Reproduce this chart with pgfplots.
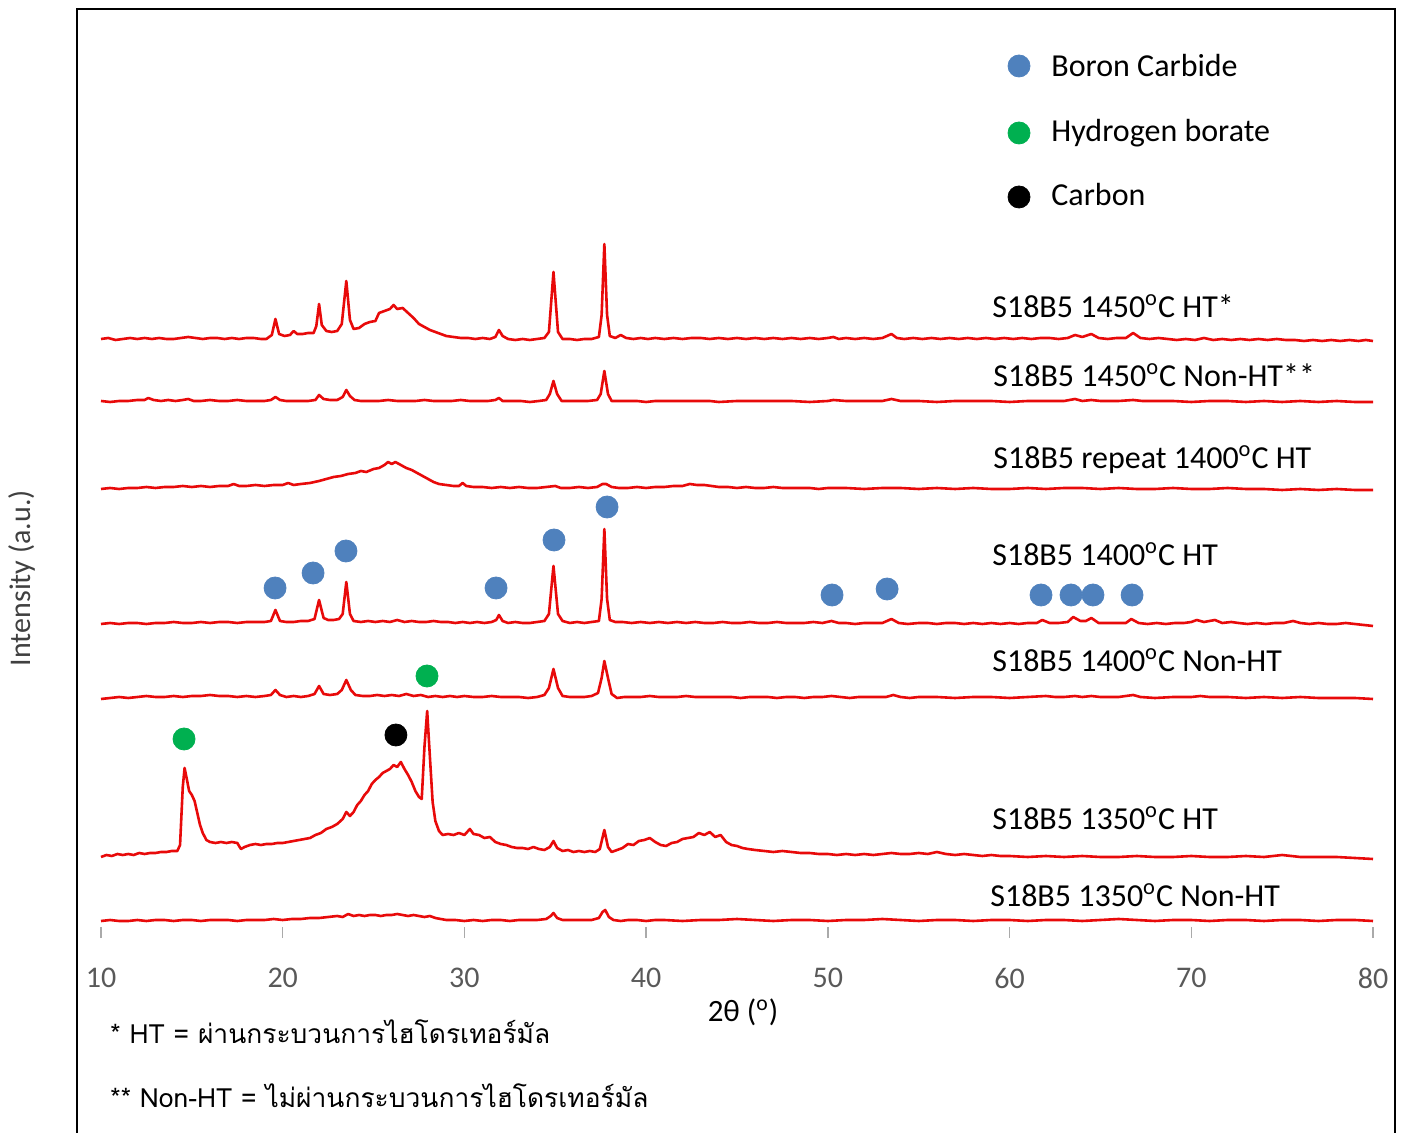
\documentclass[border=0pt]{standalone}
\usepackage{fontspec}
\setmainfont{Carlito}
\newfontfamily\thaifont[Script=Thai]{Loma}
\usepackage{pgfplots}
\usepackage{pgfplotstable}
\pgfplotsset{compat=1.18}
\definecolor{trace}{RGB}{232,10,10}
\definecolor{bcblue}{RGB}{79,129,189}
\definecolor{hbgreen}{RGB}{0,176,80}
\definecolor{tickgray}{RGB}{170,170,170}
\definecolor{labgray}{RGB}{89,89,89}
\definecolor{ylabgray}{RGB}{64,64,64}
\pgfplotsset{xrd/.style={color=trace, solid, mark=none, line width=1.3pt, line join=round}}

% 1450 HT
\pgfplotstableread{
x y
10 1
10.4 2
10.8 0
11.2 1
11.6 2
12 1
12.4 2
12.8 1
13.2 2
13.6 1
14 1
14.4 2
14.8 3
15.2 2
15.6 1
16 2
16.4 2
16.8 1
17.2 2
17.6 1
18 2
18.4 2
18.8 1
19.1 1
19.4 5
19.6 21
19.8 6
20.1 4
20.4 5
20.6 9
20.8 6
21.1 6
21.4 7
21.7 7
21.85 14
22.0 36
22.15 15
22.4 9
22.7 8
23.0 9
23.25 16
23.5 59
23.7 20
23.9 11
24.2 12
24.5 16
24.8 18
25.1 19
25.3 27
25.6 29
25.9 31
26.1 35
26.3 31
26.6 32
26.9 27
27.2 22
27.5 16
27.8 13
28.1 10
28.4 8
28.7 6
29.0 4
29.4 3
29.8 2
30.2 2
30.6 1
31.0 2
31.4 1
31.7 3
31.9 10
32.1 4
32.4 1
32.8 0
33.2 1
33.6 0
34.0 1
34.4 2
34.65 8
34.9 68
35.15 8
35.4 1
35.8 1
36.2 0
36.6 1
37.0 1
37.4 3
37.55 25
37.7 96
37.85 25
38.0 4
38.3 2
38.6 5
38.9 2
39.3 1
39.7 2
40.1 1
40.5 2
41 1
41.5 2
42 1
42.5 2
43 2
43.5 1
44 2
44.5 1
45 2
45.5 1
46 2
46.5 1
47 2
47.5 1
48 2
48.5 1
49 2
49.5 1
50 2
50.3 3
50.6 1
51 2
51.5 1
52 2
52.5 1
53 2
53.5 6
53.8 2
54.2 1
54.7 2
55.2 1
55.7 2
56.2 1
56.7 2
57.2 1
57.7 2
58.2 1
58.7 2
59.2 1
59.7 2
60.2 1
60.7 2
61.2 1
61.7 2
62.2 2
62.7 1
63.2 2
63.6 5
64.0 3
64.5 6
64.9 2
65.4 1
65.9 2
66.4 2
66.8 7
67.2 2
67.7 1
68.2 2
68.7 1
69.2 0
69.7 1
70.2 0
70.7 2
71.2 0
71.7 1
72.2 0
72.7 1
73.2 0
73.7 1
74.2 0
74.7 1
75.2 0
75.7 0
76.2 -1
76.7 0
77.2 -1
77.7 0
78.2 -1
78.7 0
79.2 -1
79.6 0
80 -1
}\tA

% 1450 Non-HT
\pgfplotstableread{
x y
10 1
10.5 0
11 1
11.5 1
12 2
12.4 2
12.6 4
12.9 2
13.3 1
13.7 2
14.1 1
14.5 2
14.8 3
15.1 1
15.5 1
16 2
16.5 1
17 1
17.5 2
18 1
18.5 1
19 1
19.35 2
19.6 5
19.85 2
20.2 1
20.6 1
21 1
21.4 1
21.8 2
22.0 7
22.25 3
22.6 2
23.0 2
23.3 5
23.5 12
23.7 6
23.95 2
24.3 1
24.8 1
25.3 1
25.8 2
26.3 1
26.8 1
27.3 1
27.8 2
28.3 1
28.8 1
29.3 1
29.8 2
30.3 1
30.8 1
31.3 1
31.7 2
31.9 4
32.1 1
32.6 1
33.1 1
33.6 0
34.1 1
34.5 2
34.7 8
34.9 21
35.1 8
35.35 1
35.8 1
36.3 1
36.8 1
37.3 2
37.5 8
37.7 31
37.9 8
38.1 1
38.5 1
39 1
39.5 1
40 0
40.5 1
41 1
41.5 1
42 1
42.5 1
43 1
43.5 1
44 0
45 1
46 1
47 1
48 1
49 0
50 1
50.3 2
51 1
52 1
53 1
53.5 3
54 1
55 1
56 0
57 1
58 1
59 1
60 0
61 1
62 1
63 1
63.6 3
64 1
64.5 2
65 1
66 1
66.8 2
67.3 1
68 1
69 1
70 0
71 1
72 1
73 0
74 1
75 0
76 1
77 0
78 1
79 0
80 0
}\tB

% repeat 1400 HT
\pgfplotstableread{
x y
10 0
10.5 1
11 0
11.5 1
12 1
12.5 2
13 1
13.5 2
14 2
14.5 3
15 2
15.5 3
16 2
16.5 3
17 3
17.3 5
17.6 3
18 3
18.5 4
19 3
19.5 4
20 4
20.3 6
20.6 4
21 5
21.5 6
22 8
22.4 10
22.8 12
23.2 13
23.6 15
24 16
24.3 18
24.6 17
25 20
25.3 21
25.6 24
25.8 27
26.0 25
26.2 27
26.5 24
26.8 21
27.1 19
27.4 16
27.7 13
28 10
28.3 7
28.6 5
29 4
29.4 3
29.7 3
29.9 6
30.1 3
30.5 2
31 2
31.5 1
32 2
32.5 1
33 2
33.5 1
34 1
34.5 2
35 3
35.3 1
35.8 1
36.3 2
36.8 1
37.3 2
37.6 5
37.8 5
38.1 2
38.5 1
39 1
39.5 2
40 1
40.5 2
41 2
41.5 3
42 3
42.4 5
42.8 4
43.2 4
43.6 3
44 2
44.5 2
45 1
45.5 2
46 1
46.5 1
47 2
47.5 1
48 1
48.5 1
49 1
49.5 0
50 1
51 1
52 0
53 1
54 1
55 0
56 1
57 0
58 1
59 0
60 0
61 1
62 0
63 1
64 1
65 0
66 1
67 0
68 0
69 1
70 0
71 0
72 1
73 0
74 0
75 -1
76 0
77 -1
78 0
79 -1
80 -1
}\tC

% 1400 HT
\pgfplotstableread{
x y
10 0
10.5 1
11 0
11.5 1
12 1
12.5 0
13 1
13.5 1
14 2
14.5 1
15 1
15.5 2
16 1
16.5 2
17 2
17.5 1
18 2
18.5 2
19 2
19.35 3
19.6 14
19.85 3
20.2 2
20.6 2
21 3
21.4 3
21.75 5
22.0 24
22.25 6
22.5 4
22.8 4
23.1 5
23.3 10
23.5 42
23.7 10
23.9 3
24.3 2
24.7 3
25.1 2
25.5 3
25.9 2
26.3 4
26.7 2
27.1 3
27.5 2
27.9 2
28.3 3
28.7 2
29.1 2
29.5 1
29.9 2
30.3 1
30.7 2
31.1 1
31.5 2
31.75 4
31.9 9
32.1 3
32.4 1
32.8 2
33.2 1
33.6 1
34.0 2
34.4 3
34.65 10
34.9 58
35.15 10
35.4 3
35.8 1
36.2 2
36.6 1
37.0 2
37.4 3
37.55 25
37.7 95
37.85 25
38.0 4
38.3 2
38.7 2
39.2 1
39.7 2
40.2 1
40.7 2
41.2 1
41.7 2
42.2 1
42.7 2
43.2 1
43.7 1
44.2 2
44.7 1
45.2 1
45.7 2
46.2 1
46.7 1
47.2 2
47.7 1
48.2 1
48.7 1
49.2 2
49.7 1
50.2 3
50.6 1
51 1
51.5 0
52 1
52.5 1
53 1
53.5 5
53.9 1
54.4 0
55 1
55.5 1
56 0
56.5 1
57 1
57.5 0
58 1
58.5 0
59 1
59.5 0
60 1
60.5 0
61 1
61.5 1
61.8 4
62.2 1
62.7 1
63.2 2
63.5 7
63.9 3
64.2 3
64.5 6
64.9 1
65.4 1
65.9 1
66.4 1
66.7 5
67.1 1
67.6 0
68.1 1
68.6 0
69.1 1
69.6 1
70.0 2
70.3 4
70.7 2
71.0 3
71.3 4
71.7 1
72.2 2
72.6 1
73.1 0
73.6 1
74.1 0
74.6 1
75.1 1
75.6 3
76.0 1
76.5 0
77 1
77.5 0
78 0
78.5 1
79 0
79.5 -1
80 -2
}\tD

% 1400 Non-HT
\pgfplotstableread{
x y
10 -1
10.5 0
11 1
11.5 0
12 1
12.5 2
13 1
13.5 1
14 2
14.5 1
15 2
15.5 2
16 3
16.5 2
17 2
17.5 1
18 2
18.5 1
19 2
19.35 3
19.6 8
19.85 3
20.2 1
20.6 2
21 1
21.4 2
21.75 4
22.0 12
22.25 4
22.6 3
23.0 4
23.25 8
23.5 18
23.75 8
24.0 3
24.4 2
24.8 2
25.2 3
25.6 2
26.0 3
26.4 2
26.8 4
27.2 2
27.6 3
28.0 1
28.4 2
28.8 1
29.2 2
29.6 1
30 2
30.5 1
31 1
31.5 2
32 1
32.5 1
33 1
33.5 0
34 1
34.4 3
34.65 10
34.9 29
35.15 10
35.4 2
35.8 1
36.2 1
36.6 1
37.0 2
37.35 5
37.55 20
37.7 37
37.9 20
38.1 4
38.4 0
38.8 1
39.2 1
39.7 1
40.2 2
40.7 1
41.2 1
41.7 1
42.2 2
42.7 1
43.2 1
43.7 1
44.2 1
44.7 1
45.2 0
45.7 1
46.2 1
46.7 1
47.2 0
47.7 1
48.2 1
48.7 0
49.2 1
49.7 1
50.2 2
50.7 1
51.2 0
51.7 1
52.2 1
52.7 1
53.2 1
53.6 3
54 1
54.5 0
55 1
56 1
57 0
58 1
59 1
60 0
61 1
62 2
62.5 1
63 1
63.6 2
64 1
64.5 2
65 1
66 1
66.8 3
67.2 1
68 0
69 1
70 1
70.5 2
71 1
72 1
73 0
74 1
75 0
76 1
77 0
78 0
79 0
80 -1
}\tE

% 1350 HT
\pgfplotstableread{
x y
10 0
10.3 2
10.6 1
10.9 3
11.2 2
11.5 3
11.8 2
12.1 4
12.4 3
12.7 4
13.0 4
13.3 5
13.6 5
13.9 6
14.2 6
14.35 12
14.5 70
14.6 89
14.7 80
14.85 66
15.0 62
15.15 56
15.3 44
15.45 32
15.6 24
15.8 17
16.0 15
16.3 14
16.6 15
16.9 14
17.2 15
17.5 14
17.7 8
17.9 10
18.2 12
18.5 13
18.8 12
19.1 13
19.4 13
19.7 14
20.0 14
20.3 15
20.6 16
20.9 17
21.2 18
21.5 19
21.8 22
22.1 24
22.4 28
22.7 30
23.0 33
23.3 38
23.5 45
23.7 41
23.9 45
24.1 52
24.3 56
24.5 62
24.7 66
24.9 73
25.1 77
25.3 80
25.5 84
25.7 86
25.9 88
26.1 92
26.3 90
26.5 95
26.7 88
26.9 82
27.1 75
27.3 66
27.5 60
27.65 58
27.8 110
27.95 146
28.1 100
28.25 55
28.4 36
28.6 26
28.8 22
29.1 23
29.4 22
29.7 24
30.0 22
30.3 28
30.5 23
30.8 22
31.1 19
31.4 20
31.7 15
32.0 13
32.3 12
32.6 10
32.9 9
33.2 9
33.5 8
33.8 10
34.1 8
34.4 7
34.7 10
34.9 16
35.1 9
35.4 6
35.7 7
36.0 5
36.3 6
36.6 5
36.9 6
37.2 5
37.45 8
37.7 27
37.9 10
38.1 5
38.4 7
38.7 9
39.0 13
39.3 12
39.6 16
39.9 17
40.2 19
40.5 15
40.8 12
41.1 11
41.4 14
41.7 15
42.0 18
42.3 19
42.6 20
42.9 24
43.2 22
43.5 25
43.8 20
44.1 22
44.4 15
44.7 12
45.0 11
45.3 9
45.6 8
46.0 7
46.5 6
47.0 5
47.5 6
48.0 5
48.5 4
49.0 4
49.5 3
50.0 3
50.5 2
51.0 3
51.5 2
52.0 3
52.5 2
53.0 3
53.5 4
54.0 3
54.5 3
55.0 4
55.5 3
56.0 5
56.5 3
57.0 2
57.5 3
58.0 2
58.5 1
59.0 2
59.5 1
60.0 1
61 0
62 1
63 0
64 1
65 0
66 0
67 1
68 0
69 0
70 1
71 0
72 0
73 1
74 0
75 2
75.5 1
76 0
77 0
78 0
79 -1
80 -2
}\tF

% 1350 Non-HT
\pgfplotstableread{
x y
10 0
10.5 1
11 0
11.5 0
12 1
12.5 0
13 1
13.5 1
14 0
14.5 1
15 1
15.5 0
16 1
16.5 1
17 1
17.5 0
18 1
18.5 1
19 1
19.5 2
20 1
20.5 2
21 2
21.5 3
22 3
22.5 4
23 5
23.3 4
23.6 7
23.9 5
24.2 6
24.5 5
24.8 6
25.1 6
25.4 5
25.7 6
26.0 6
26.3 7
26.6 6
26.9 5
27.2 6
27.5 5
27.8 4
28.1 5
28.4 3
28.7 2
29.0 1
29.5 1
30 0
30.5 1
31 0
31.5 1
32 1
32.5 0
33 1
33.5 1
34 1
34.5 2
34.75 5
34.9 8
35.1 3
35.4 1
35.8 1
36.2 1
36.6 1
37.0 1
37.4 3
37.6 9
37.75 11
37.95 4
38.2 1
38.6 0
39 1
39.5 1
40 0
40.5 1
41 1
42 0
43 1
44 1
45 2
46 1
47 0
48 1
49 1
50 0
51 1
52 1
53 2
54 1
55 0
56 1
57 1
58 0
59 1
60 1
61 0
62 1
63 1
64 0
65 1
66 2
67 1
68 0
69 1
70 1
71 0
72 1
73 1
74 0
75 1
76 1
77 0
78 1
79 1
80 0
}\tG

\begin{document}
\begin{tikzpicture}
\useasboundingbox (-50.5pt,-103pt) rectangle (652.5pt,463.5pt);
\begin{axis}[
  at={(0,0)}, anchor=south west,
  width=636pt, height=459pt, scale only axis,
  xmin=10, xmax=80, ymin=0, ymax=918,
  clip=false,
  axis line style={draw=none},
  tick pos=left,
  xtick={10,20,...,80}, ytick=\empty,
  tick align=outside, major tick length=5.5pt,
  xtick style={draw=tickgray, line width=0.7pt},
  /pgf/number format/assume math mode=true,
  xticklabel style={text=labgray, font=\fontsize{15}{18}\selectfont, yshift=-11.5pt},
  xlabel={2θ (\textsuperscript{o})},
  xlabel style={at={(axis description cs:0.5047,-0.0926)}, anchor=center, font=\fontsize{15.5}{18}\selectfont},
  ylabel={Intensity (a.u.)},
  ylabel style={at={(axis description cs:-0.0621,0.380)}, anchor=center, text=ylabgray, font=\fontsize{15}{18}\selectfont},
]
\addplot[xrd] table[x=x, y expr=\thisrow{y}+587] {\tA};
\addplot[xrd] table[x=x, y expr=\thisrow{y}+525] {\tB};
\addplot[xrd] table[x=x, y expr=\thisrow{y}+438] {\tC};
\addplot[xrd] table[x=x, y expr=\thisrow{y}+303] {\tD};
\addplot[xrd] table[x=x, y expr=\thisrow{y}+229] {\tE};
\addplot[xrd] table[x=x, y expr=\thisrow{y}+70] {\tF};
\addplot[xrd] table[x=x, y expr=\thisrow{y}+6] {\tG};

% phase markers
\addplot[only marks, mark=*, mark size=5.5pt, mark options={draw=bcblue, fill=bcblue}] coordinates {
(19.58,339) (21.67,354) (23.48,376) (31.74,339) (34.93,387) (37.85,420)
(50.23,332) (53.26,338) (61.73,332) (63.38,332) (64.59,332) (66.74,332)
(60.52,861)};
\addplot[only marks, mark=*, mark size=5.5pt, mark options={draw=hbgreen, fill=hbgreen}] coordinates {
(14.57,188) (27.94,251) (60.52,794)};
\addplot[only marks, mark=*, mark size=5.5pt, mark options={draw=black, fill=black}] coordinates {
(26.23,192) (60.52,730)};

\draw[black, line width=1.25pt] (axis cs:8.679,-230) -- (axis cs:8.679,918) -- (axis cs:81.21,918) -- (axis cs:81.21,-230);

\begin{scope}[every node/.style={inner sep=0pt, anchor=base west, font=\fontsize{16}{19}\selectfont}]
\node at (axis cs:62.28,850.5) {Boron Carbide};
\node at (axis cs:62.28,785.5) {Hydrogen borate};
\node at (axis cs:62.28,721.5) {Carbon};
\node at (axis cs:59.03,609) {S18B5 1450\textsuperscript{o}C HT*};
\node at (axis cs:59.09,540) {S18B5 1450\textsuperscript{o}C Non-HT**};
\node at (axis cs:59.09,458) {S18B5 repeat 1400\textsuperscript{o}C HT};
\node at (axis cs:59.03,361) {S18B5 1400\textsuperscript{o}C HT};
\node at (axis cs:59.03,255) {S18B5 1400\textsuperscript{o}C Non-HT};
\node at (axis cs:59.03,97) {S18B5 1350\textsuperscript{o}C HT};
\node at (axis cs:58.92,20) {S18B5 1350\textsuperscript{o}C Non-HT};
\node[font=\thaifont\fontsize{13.2}{16}\selectfont] at (axis cs:10.5,-116) {* HT = ผ่านกระบวนการไฮโดรเทอร์มัล};
\node[font=\thaifont\fontsize{13.2}{16}\selectfont] at (axis cs:10.5,-180) {** Non-HT = ไม่ผ่านกระบวนการไฮโดรเทอร์มัล};
\end{scope}
\end{axis}
\end{tikzpicture}
\end{document}
